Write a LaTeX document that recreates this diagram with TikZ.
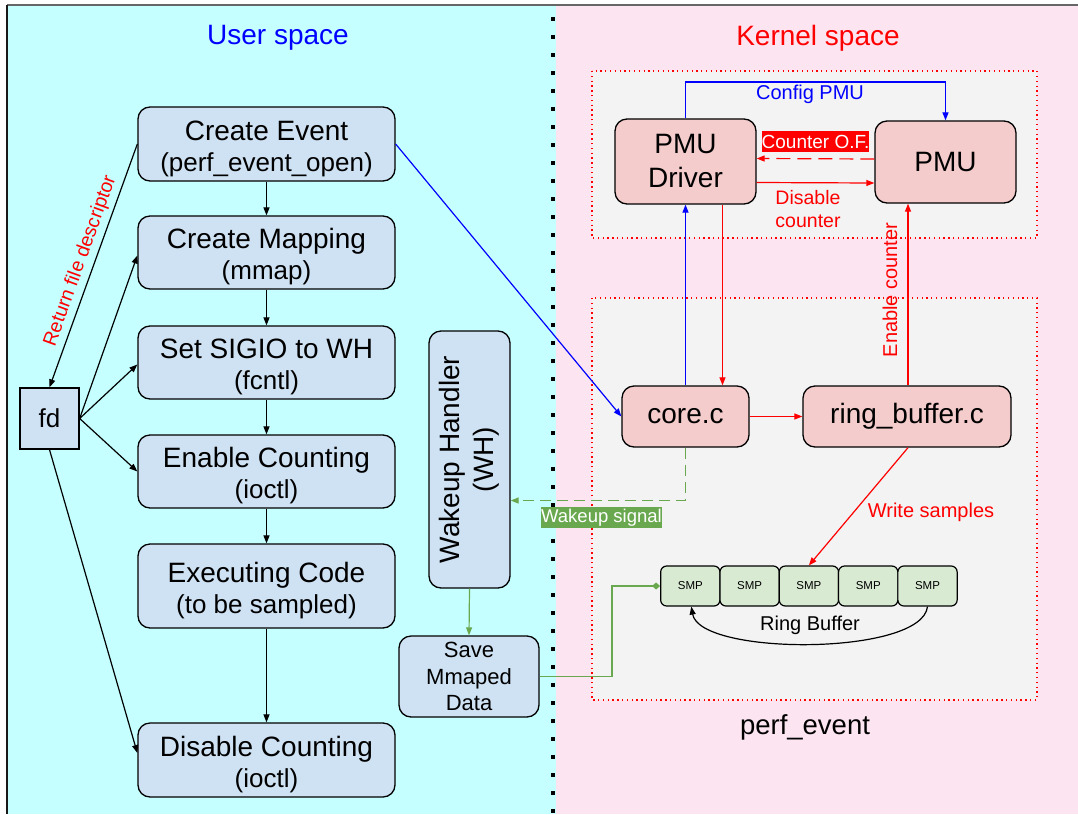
\documentclass[tikz,border=0pt]{standalone}
\usepackage{fontspec}
\setmainfont{Liberation Sans}
\usetikzlibrary{arrows.meta,calc}

\definecolor{userbg}{RGB}{198,255,255}
\definecolor{kernbg}{RGB}{252,228,240}
\definecolor{areabg}{RGB}{243,243,243}
\definecolor{ublue}{RGB}{207,226,243}
\definecolor{kpink}{RGB}{244,204,204}
\definecolor{sgreen}{RGB}{217,234,211}
\definecolor{wgreen}{RGB}{106,168,79}
\definecolor{tblue}{RGB}{0,0,255}
\definecolor{tred}{RGB}{255,0,0}

% font size and line spacing, both in pt
\newcommand{\fs}[2]{\fontsize{#1}{#2}\selectfont}
% two-line step label: title line plus call line
\newcommand{\steptext}[2]{\rule{0pt}{28.5pt}#1\\\fs{26}{31}#2}

\tikzset{
  box/.style={draw=black, line width=1.3pt, rounded corners=12pt, align=center,
              inner sep=0pt, text=black},
  ubox/.style={box, fill=ublue, minimum width=257pt, minimum height=74pt,
               font=\fs{28}{31}},
  kbox/.style={box, fill=kpink, font=\fs{28}{34}},
  smpbox/.style={draw=black, line width=1.2pt, rounded corners=6pt, fill=sgreen,
                 minimum width=59.3pt, minimum height=40pt, inner sep=0pt,
                 font=\fs{11.5}{13}},
  area/.style={draw=tred, fill=areabg, line width=1.3pt,
               dash pattern=on 1.3pt off 3.5pt},
  tip/.style={-{Triangle[length=8pt,width=6pt]}},
  conn/.style={line width=1.2pt, tip},
  lbl/.style={inner sep=0pt, align=center},
}

\begin{document}
\begin{tikzpicture}[x=1pt, y=-1pt]
  \useasboundingbox (0,0) rectangle (1078,814);

  % backgrounds of the two halves
  \fill[white] (0,0) rectangle (1078,814);
  \fill[userbg] (7,5) rectangle (556,814);
  \fill[kernbg] (556,5) rectangle (1078,814);
  \draw[black!60, line width=1.3pt] (7,5) -- (1078,5);
  \draw[black!90, line width=1.4pt] (7,5) -- (7,814);

  % user / kernel divider
  \draw[black, line width=4pt, dash pattern=on 4pt off 14pt] (552.5,17) -- (552.5,814);

  % section titles
  \node[text=tblue, font=\fs{28}{32}] (ttlu) at (278,38) {User space};
  \node[text=tred, font=\fs{28}{32}] (ttlk) at (818,38) {Kernel space};

  % kernel areas
  \draw[area] (592,71) rectangle (1037,238);
  \draw[area] (592,298) rectangle (1037,700);
  \node[font=\fs{27.5}{32}] (perf) at (805,727) {perf\_event};

  % user space flow
  \node[ubox] (ce) at (266.5,144) {\steptext{Create Event}{(perf\_event\_open)}};
  \node[ubox, minimum height=73pt] (cm) at (266.5,252.5) {\steptext{Create Mapping}{(mmap)}};
  \node[ubox, minimum height=73pt] (ss) at (266.5,362.5) {\steptext{Set SIGIO to WH}{(fcntl)}};
  \node[ubox, minimum height=73pt] (ec) at (266.5,471.5) {\steptext{Enable Counting}{(ioctl)}};
  \node[ubox, minimum height=84pt] (ex) at (266.5,586) {\steptext{Executing Code}{(to be sampled)}};
  \node[ubox] (dc) at (266.5,760) {\steptext{Disable Counting}{(ioctl)}};

  \node[draw=black, line width=1.3pt, fill=ublue, minimum width=59pt, minimum height=61pt,
        inner sep=0pt, font=\fs{26}{30}] (fd) at (49.5,418.5) {fd};

  \node[box, fill=ublue, minimum width=81pt, minimum height=257pt] (wh) at (469.5,459.5) {};
  \node[lbl, rotate=90, font=\fs{28}{34}] (whtext) at (wh.center) {Wakeup Handler\\(WH)};

  \node[box, fill=ublue, minimum width=140pt, minimum height=81pt, font=\fs{22}{26.5}]
        (save) at (469,676.5) {Save\\Mmaped\\Data};

  % kernel nodes
  \node[kbox, minimum width=141pt, minimum height=85pt] (drv) at (685.5,161.5) {PMU\\Driver};
  \node[kbox, minimum width=141pt, minimum height=82pt] (pmu) at (945.5,162) {PMU};
  \node[kbox, minimum width=127pt, minimum height=61pt] (core) at (685.5,416.5) {core.c};
  \node[kbox, minimum width=208pt, minimum height=61pt] (rb) at (907,416.5) {ring\_buffer.c};

  \node[smpbox] (s1) at (690.3,586) {SMP};
  \node[smpbox] (s2) at (749.6,586) {SMP};
  \node[smpbox] (s3) at (808.9,586) {SMP};
  \node[smpbox] (s4) at (868.2,586) {SMP};
  \node[smpbox] (s5) at (927.5,586) {SMP};
  \node[font=\fs{20}{24}] (rblbl) at (810,625) {Ring Buffer};

  % user space connectors
  \draw[conn] (ce) -- (cm);
  \draw[conn] (cm) -- (ss);
  \draw[conn] (ss) -- (ec);
  \draw[conn] (ec) -- (ex);
  \draw[conn] (ex) -- (dc);

  \draw[conn] (ce.west) -- node[midway, sloped, above=4pt, inner sep=0pt,
      text=tred, font=\fs{19.5}{23}] (rfd) {Return file descriptor} (fd.north);
  \draw[conn] (fd.east) -- ([yshift=-3pt]cm.west);
  \draw[conn] (fd.east) -- ([yshift=-2pt]ss.west);
  \draw[conn] (fd.east) -- (ec.west);
  \draw[conn] (fd.south) -- ([yshift=7pt]dc.west);

  % system call into the kernel
  \draw[conn, tblue] (ce.east) -- (core.west);

  % PMU control
  \draw[conn, tblue] (drv.north) -- (685.5,82) -| (pmu.north);
  \node[text=tblue, font=\fs{20}{24}] (cfg) at (810,94) {Config PMU};
  \draw[conn, tred, dash pattern=on 14pt off 7pt] ([yshift=3pt]pmu.west) -- ([yshift=3pt]drv.east);
  \node[fill=tred, text=white, font=\fs{19}{22}, minimum width=105pt, minimum height=21pt,
        inner sep=0pt] (cof) at (815.5,141.5) {Counter O.F.};
  \draw[conn, tred] ([yshift=-21pt]drv.east) -- ([yshift=-21pt]pmu.west);
  \node[text=tred, font=\fs{19.5}{23}, lbl] (dis) at (808,209) {Disable\\counter};

  \draw[conn, tblue] (core.north) -- (drv.south);
  \draw[conn, tred] ([xshift=37pt]drv.south) -- ([xshift=37pt]drv.south |- core.north);
  \draw[conn, tred] ([xshift=1pt]rb.north) -- ([xshift=1pt]rb.north |- pmu.south);
  \node[text=tred, rotate=90, font=\fs{20}{24}] (enc) at (890,290) {Enable counter};

  \draw[conn, tred] (core.east) -- (rb.west);
  \draw[conn, tred] ([xshift=1pt]rb.south) -- (s3.north);
  \node[text=tred, font=\fs{20}{24}] (wrs) at (931,512) {Write samples};

  % wakeup path
  \draw[conn, wgreen, dash pattern=on 11pt off 6pt] (core.south) |- ([yshift=-41pt]wh.east);
  \node[fill=wgreen, text=white, font=\fs{18.5}{22}, minimum width=119pt, minimum height=21pt,
        inner sep=0pt] (wks) at (601.5,517.5) {Wakeup signal};
  \draw[conn, wgreen] (wh.south) -- (save.north);
  \draw[line width=1.2pt, wgreen, -{Diamond[length=8pt,width=7pt]}] (save.east) -- (612,676.5) |- (s1.west);

  % ring buffer wrap-around
  \draw[line width=1.2pt, black, -{Triangle[length=8pt,width=6pt]}]
    (s5.south) .. controls (922,656) and (700,656) .. ([xshift=1pt]s1.south);
\end{tikzpicture}
\end{document}
